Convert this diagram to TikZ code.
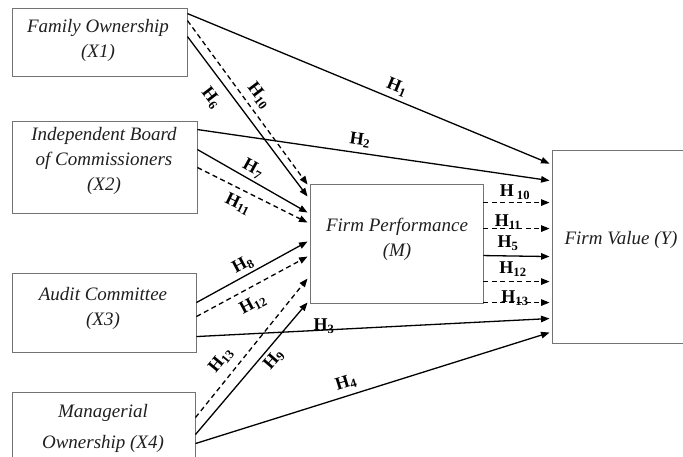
\documentclass[tikz,border=0pt]{standalone}
\usepackage{fontspec}
\setmainfont{Liberation Serif}
\usetikzlibrary{arrows.meta,calc}
\begin{document}
\begin{tikzpicture}[x=1pt,y=-1pt,
  box/.style={draw=black!55, line width=0.9pt, rectangle, inner sep=0pt},
  btxt/.style={font=\fontsize{19}{25}\selectfont\itshape, align=center, text=black!88, inner sep=0pt},
  lab/.style={font=\fontsize{18}{20}\selectfont\bfseries, inner sep=0pt},
  arr/.style={line width=1.3pt, -{Triangle[length=8.5pt,width=6.5pt]}},
  dsh/.style={arr, dash pattern=on 5pt off 3.5pt}]
\useasboundingbox (0,0) rectangle (683,456);
\clip (0,0) rectangle (683,456);
% boxes
\node[box, minimum width=175pt, minimum height=68pt] (X1) at (99.5,42) {};
\node[box, minimum width=185pt, minimum height=92pt] (X2) at (104.5,167) {};
\node[box, minimum width=184pt, minimum height=79pt] (X3) at (104,312.5) {};
\node[box, minimum width=183pt, minimum height=72pt] (X4) at (103.5,428) {};
\node[box, minimum width=173pt, minimum height=119pt] (M) at (396.5,243.5) {};
\node[box, minimum width=139pt, minimum height=193pt] (Y) at (621.5,246.5) {};
% texts
\node[btxt] (X1t) at (98,40.5) {Family Ownership\\(X1)};
\node[btxt] (X2t) at (104,161) {Independent Board\\of Commissioners\\(X2)};
\node[btxt] (X3t) at (103,308.5) {Audit Committee\\(X3)};
\node[btxt] (X4t) at (103,428) {Managerial\\[6pt]Ownership (X4)};
\node[btxt] (Mt) at (397,239) {Firm Performance\\(M)};
\node[btxt] (Yt) at (621,240) {Firm Value (Y)};
% direct effects to Y
\draw[arr] ($(X1.north east)+(0,6)$) -- ($(Y.north west)+(-2,14)$);
\draw[arr] ($(X2.north east)+(0,9)$) -- ($(Y.north west)+(-2,31)$);
\draw[arr] ($(X3.north east)+(0,64)$) -- ($(Y.north west)+(-2,169)$);
\draw[arr] ($(X4.north east)+(0,52)$) -- ($(Y.north west)+(-2,183)$);
% to M
\draw[dsh] ($(X1.north east)+(0,13)$) -- ($(M.north west)+(-2,1)$);
\draw[arr] ($(X1.north east)+(0,29)$) -- ($(M.north west)+(-2,13)$);
\draw[arr] ($(X2.north east)+(0,29)$) -- ($(M.north west)+(-2,29)$);
\draw[dsh] ($(X2.north east)+(0,47)$) -- ($(M.north west)+(-2,39)$);
\draw[arr] ($(X3.north east)+(0,30)$) -- ($(M.north west)+(-2,58)$);
\draw[dsh] ($(X3.north east)+(0,44)$) -- ($(M.north west)+(-2,73)$);
\draw[dsh] ($(X4.north east)+(0,26)$) -- ($(M.north west)+(-2,95)$);
\draw[arr] ($(X4.north east)+(0,43)$) -- ($(M.south west)+(-2,-1)$);
% M to Y
\draw[dsh] ($(M.north east)+(0,19)$) -- ($(Y.north west)+(-2,53)$);
\draw[dsh] ($(M.north east)+(0,45)$) -- ($(Y.north west)+(-2,79)$);
\draw[arr] ($(M.north east)+(0,72)$) -- ($(Y.north west)+(-2,107)$);
\draw[dsh] ($(M.north east)+(0,98)$) -- ($(Y.north west)+(-2,132)$);
\draw[dsh] ($(M.north east)+(0,119)$) -- ($(Y.north west)+(-2,153)$);
% labels
\node[lab, rotate=-22.3] (h1) at (397,87) {H\textsubscript{1}};
\node[lab, rotate=-8.2] (h2) at (360,140) {H\textsubscript{2}};
\node[lab] (h3) at (324,326) {H\textsubscript{3}};
\node[lab, rotate=17.3] (h4) at (346,383) {H\textsubscript{4}};
\node[lab, rotate=-52.4] (h6) at (211,98) {H\textsubscript{6}};
\node[lab, rotate=-53.1] (h10a) at (259,96) {H\textsubscript{10}};
\node[lab, rotate=-29.1] (h7) at (253,169) {H\textsubscript{7}};
\node[lab, rotate=-26] (h11a) at (238,204) {H\textsubscript{11}};
\node[lab, rotate=28.2] (h8) at (243,265) {H\textsubscript{8}};
\node[lab, rotate=27.8] (h12a) at (253,304) {H\textsubscript{12}};
\node[lab, rotate=50.4] (h13a) at (221,360) {H\textsubscript{13}};
\node[lab, rotate=49.1] (h9) at (274,360) {H\textsubscript{9}};
\node[lab] (h10b) at (515,192) {H\,\textsubscript{10}};
\node[lab] (h11b) at (508,222) {H\textsubscript{11}};
\node[lab] (h5) at (508,243) {H\textsubscript{5}};
\node[lab] (h12b) at (513,269) {H\textsubscript{12}};
\node[lab] (h13b) at (515,298) {H\textsubscript{13}};
\end{tikzpicture}
\end{document}
